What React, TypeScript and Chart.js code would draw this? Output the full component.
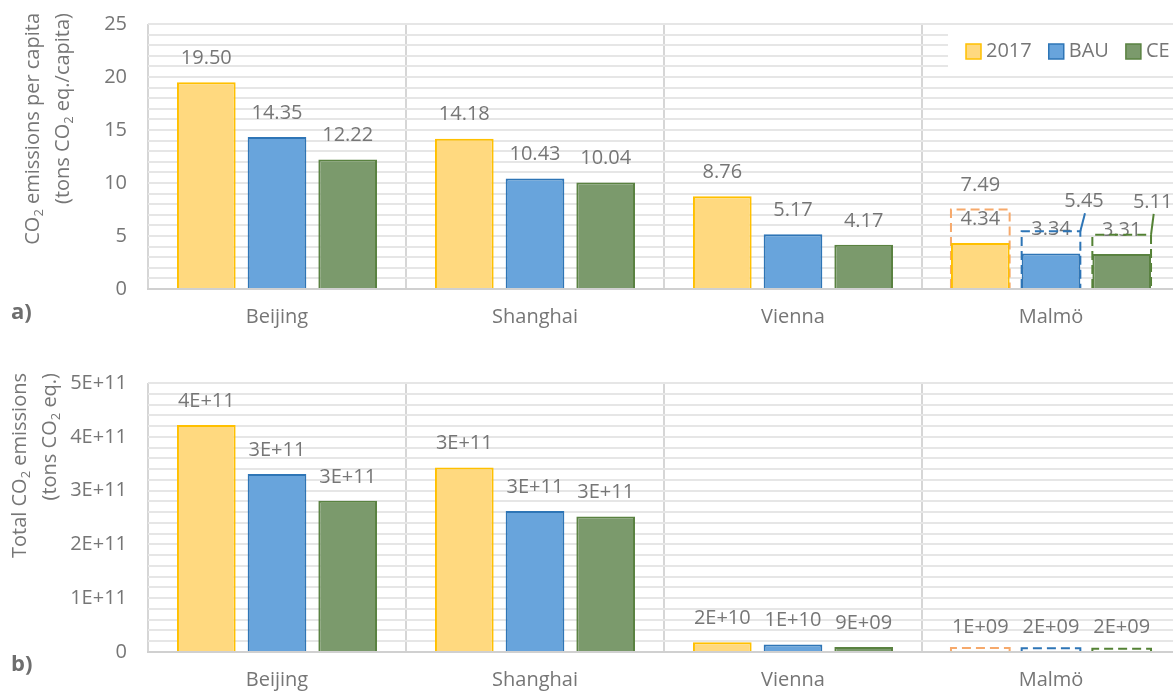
import React, { useEffect, useRef } from 'react';
import { Chart, registerables } from 'chart.js';

Chart.register(...registerables);

// ---------- data ----------
const cities = ['Beijing', 'Shanghai', 'Vienna', 'Malmö'];
const seriesNames = ['2017', 'BAU', 'CE'];

const perCapita2017 = [19.5, 14.18, 8.76, 4.34];
const perCapitaBAU = [14.35, 10.43, 5.17, 3.34];
const perCapitaCE = [12.22, 10.04, 4.17, 3.31];
const perCapitaAlt2017 = [null, null, null, 7.49];
const perCapitaAltBAU = [null, null, null, 5.45];
const perCapitaAltCE = [null, null, null, 5.11];

const total2017 = [4.22e11, 3.43e11, 1.8e10, 1.2e9];
const totalBAU = [3.31e11, 2.62e11, 1.4e10, 1.7e9];
const totalCE = [2.81e11, 2.52e11, 9.2e9, 1.6e9];
const totalAlt2017 = [null, null, null, 7.5e9];
const totalAltBAU = [null, null, null, 7e9];
const totalAltCE = [null, null, null, 6e9];

const perCapitaMax = 25;
const perCapitaStep = 1;
const perCapitaMajor = 5;
const totalMax = 5e11;
const totalStep = 2e10;
const totalMajor = 1e11;

// ---------- styles ----------
const FAMILY = '"Open Sans", sans-serif';
const TXT = '#767676';
const fills = ['#FFD97F', '#68A4DC', '#7B9A6C'];
const borders = ['#FFC000', '#2E75B6', '#5A8241'];
const dashColors = ['#F6A96B', '#2E75B6', '#548235'];
const CW = 1181;

type Part = [string, boolean];

function fmtExp(v: number): string {
  if (v === 0) return '0';
  const s = v.toExponential(0);
  const [m, e] = s.split('e');
  const sign = e[0] === '-' ? '-' : '+';
  const n = Math.abs(parseInt(e, 10));
  return `${m}E${sign}${n < 10 ? '0' + n : n}`;
}

function isMultiple(v: number, m: number) {
  const r = v / m;
  return Math.abs(r - Math.round(r)) < 1e-6;
}

function richWidth(ctx: CanvasRenderingContext2D, parts: Part[], size: number) {
  let w = 0;
  for (const [t, sub] of parts) {
    ctx.font = `${sub ? Math.round(size * 0.65) : size}px ${FAMILY}`;
    w += ctx.measureText(t).width;
  }
  return w;
}

function drawRich(ctx: CanvasRenderingContext2D, parts: Part[], x: number, y: number, size: number) {
  let cx = x;
  for (const [t, sub] of parts) {
    ctx.font = `${sub ? Math.round(size * 0.65) : size}px ${FAMILY}`;
    ctx.fillText(t, cx, sub ? y + size * 0.3 : y);
    cx += ctx.measureText(t).width;
  }
}

type PanelCfg = {
  height: number;
  padTop: number;
  xAxisHeight: number;
  solid: number[][];
  alt: (number | null)[][];
  max: number;
  step: number;
  major: number;
  tickFmt: (v: number) => string;
  labelFmt: (v: number) => string;
  altLabels: boolean;
  altShift: number[][];
  legend: boolean;
  titleLines: { parts: Part[]; x: number }[];
  titleEnd: number;
  panel: string;
  panelY: number;
};

function makePlugin(cfg: PanelCfg) {
  return {
    id: 'decor',
    beforeDatasetsDraw(chart: any) {
      const ctx: CanvasRenderingContext2D = chart.ctx;
      ctx.save();
      // legend
      if (cfg.legend) {
        ctx.fillStyle = '#ffffff';
        ctx.fillRect(948, 27, chart.width - 948, 48);
        let x = 966;
        ctx.font = `20px ${FAMILY}`;
        ctx.textBaseline = 'middle';
        ctx.textAlign = 'left';
        seriesNames.forEach((name, i) => {
          ctx.fillStyle = fills[i];
          ctx.fillRect(x, 44, 15, 15);
          ctx.strokeStyle = borders[i];
          ctx.lineWidth = 1.5;
          ctx.strokeRect(x, 44, 15, 15);
          ctx.fillStyle = TXT;
          ctx.font = `20px ${FAMILY}`;
          ctx.fillText(name, x + 20, 51);
          x += 20 + ctx.measureText(name).width + 17;
        });
      }
      // value labels
      ctx.font = `20px ${FAMILY}`;
      ctx.textAlign = 'center';
      ctx.textBaseline = 'middle';
      for (let d = 0; d < 3; d++) {
        const meta = chart.getDatasetMeta(d);
        meta.data.forEach((el: any, i: number) => {
          const v = cfg.solid[d][i];
          if (v == null) return;
          ctx.fillStyle = TXT;
          ctx.fillText(cfg.labelFmt(v), el.x, el.y - 24);
        });
      }
      if (cfg.altLabels) {
        for (let d = 0; d < 3; d++) {
          const meta = chart.getDatasetMeta(d + 3);
          const [dx, dy] = cfg.altShift[d];
          meta.data.forEach((el: any, i: number) => {
            const v = cfg.alt[d][i];
            if (v == null) return;
            const lx = el.x + dx;
            const ly = el.y - 24 + dy;
            ctx.fillStyle = TXT;
            ctx.font = `20px ${FAMILY}`;
            ctx.fillText(cfg.labelFmt(v), lx, ly);
            if (dx !== 0) {
              ctx.strokeStyle = dashColors[d];
              ctx.lineWidth = 2;
              ctx.setLineDash([]);
              ctx.beginPath();
              ctx.moveTo(el.x + el.width / 2, el.y);
              ctx.lineTo(lx + 1, ly + 12);
              ctx.stroke();
            }
          });
        }
      }
      // dashed outlines
      for (let d = 0; d < 3; d++) {
        const meta = chart.getDatasetMeta(d + 3);
        meta.data.forEach((el: any, i: number) => {
          const v = cfg.alt[d][i];
          if (v == null) return;
          const l = el.x - el.width / 2;
          const r = el.x + el.width / 2;
          ctx.strokeStyle = dashColors[d];
          ctx.lineWidth = 2;
          ctx.setLineDash([9, 5]);
          ctx.beginPath();
          ctx.moveTo(l, el.base);
          ctx.lineTo(l, el.y);
          ctx.lineTo(r, el.y);
          ctx.lineTo(r, el.base);
          ctx.stroke();
        });
      }
      ctx.restore();
    },
    afterDraw(chart: any) {
      const ctx: CanvasRenderingContext2D = chart.ctx;
      ctx.save();
      ctx.fillStyle = TXT;
      ctx.textBaseline = 'middle';
      ctx.textAlign = 'left';
      for (const line of cfg.titleLines) {
        ctx.save();
        ctx.translate(line.x, cfg.titleEnd);
        ctx.rotate(-Math.PI / 2);
        const w = richWidth(ctx, line.parts, 20);
        drawRich(ctx, line.parts, -w, 0, 20);
        ctx.restore();
      }
      ctx.font = `bold 22px ${FAMILY}`;
      ctx.fillStyle = '#6e6e6e';
      ctx.fillText(cfg.panel, 11, cfg.panelY);
      ctx.restore();
    },
  };
}

function buildConfig(cfg: PanelCfg): any {
  const pct = { categoryPercentage: 0.822, barPercentage: 0.83 };
  const solidSets = cfg.solid.map((data, i) => ({
    label: seriesNames[i],
    data,
    backgroundColor: fills[i],
    borderColor: borders[i],
    borderWidth: 2,
    stack: 'g' + i,
    order: 0,
    ...pct,
  }));
  const altSets = cfg.alt.map((data, i) => ({
    label: seriesNames[i] + ' alt',
    data,
    backgroundColor: 'rgba(0,0,0,0)',
    borderColor: 'rgba(0,0,0,0)',
    borderWidth: 0,
    stack: 'g' + i,
    order: 1,
    ...pct,
  }));
  return {
    type: 'bar',
    data: { labels: cities, datasets: [...solidSets, ...altSets] },
    options: {
      responsive: false,
      animation: false,
      devicePixelRatio: 1,
      layout: { padding: { top: cfg.padTop, left: 0, right: 1, bottom: 0 } },
      plugins: { legend: { display: false }, tooltip: { enabled: false } },
      scales: {
        x: {
          type: 'category',
          offset: true,
          grid: { display: true, offset: true, color: '#d6d6d6', lineWidth: 2, drawTicks: false },
          border: { display: true, color: '#d0d0d0', width: 2 },
          ticks: {
            autoSkip: false,
            maxRotation: 0,
            padding: 16,
            color: TXT,
            font: { family: FAMILY, size: 20 },
          },
          afterFit: (s: any) => {
            s.height = cfg.xAxisHeight;
            s.paddingLeft = 0;
            s.paddingRight = 0;
          },
        },
        y: {
          min: 0,
          max: cfg.max,
          stacked: false,
          grid: { color: '#e6e6e6', lineWidth: 2, drawTicks: false },
          border: { display: false },
          ticks: {
            stepSize: cfg.step,
            maxTicksLimit: 200,
            autoSkip: false,
            padding: 21,
            color: TXT,
            font: { family: FAMILY, size: 20 },
            callback: (v: number) => (isMultiple(v, cfg.major) ? cfg.tickFmt(v) : ''),
          },
          afterFit: (s: any) => {
            s.width = 148;
            s.paddingTop = 0;
            s.paddingBottom = 0;
          },
        },
      },
    },
    plugins: [makePlugin(cfg)],
  };
}

const topCfg: PanelCfg = {
  height: 340,
  padTop: 24,
  xAxisHeight: 51,
  solid: [perCapita2017, perCapitaBAU, perCapitaCE],
  alt: [perCapitaAlt2017, perCapitaAltBAU, perCapitaAltCE],
  max: perCapitaMax,
  step: perCapitaStep,
  major: perCapitaMajor,
  tickFmt: (v) => String(v),
  labelFmt: (v) => v.toFixed(2),
  altLabels: true,
  altShift: [
    [0, 0],
    [33, -6],
    [31, -9],
  ],
  legend: true,
  titleLines: [
    { parts: [['CO', false], ['2', true], [' emissions per capita', false]], x: 33 },
    { parts: [['(tons CO', false], ['2', true], [' eq./capita)', false]], x: 63 },
  ],
  titleEnd: 13,
  panel: 'a)',
  panelY: 313,
};

const bottomCfg: PanelCfg = {
  height: 372,
  padTop: 43,
  xAxisHeight: 60,
  solid: [total2017, totalBAU, totalCE],
  alt: [totalAlt2017, totalAltBAU, totalAltCE],
  max: totalMax,
  step: totalStep,
  major: totalMajor,
  tickFmt: fmtExp,
  labelFmt: fmtExp,
  altLabels: false,
  altShift: [
    [0, 0],
    [0, 0],
    [0, 0],
  ],
  legend: false,
  titleLines: [
    { parts: [['Total CO', false], ['2', true], [' emissions', false]], x: 20 },
    { parts: [['(tons CO', false], ['2', true], [' eq.)', false]], x: 50 },
  ],
  titleEnd: 33,
  panel: 'b)',
  panelY: 325,
};

function Panel({ cfg, top }: { cfg: PanelCfg; top: number }) {
  const ref = useRef<HTMLCanvasElement>(null);
  useEffect(() => {
    const chart = new Chart(ref.current as HTMLCanvasElement, buildConfig(cfg));
    return () => chart.destroy();
  }, []);
  return (
    <canvas
      ref={ref}
      width={CW}
      height={cfg.height}
      style={{ position: 'absolute', left: 0, top, width: CW, height: cfg.height, display: 'block' }}
    />
  );
}

export default function App() {
  return (
    <div
      style={{
        position: 'fixed',
        left: 0,
        top: 0,
        width: 1173,
        height: 692,
        overflow: 'hidden',
        background: '#ffffff',
      }}
    >
      <Panel cfg={topCfg} top={0} />
      <Panel cfg={bottomCfg} top={340} />
    </div>
  );
}
